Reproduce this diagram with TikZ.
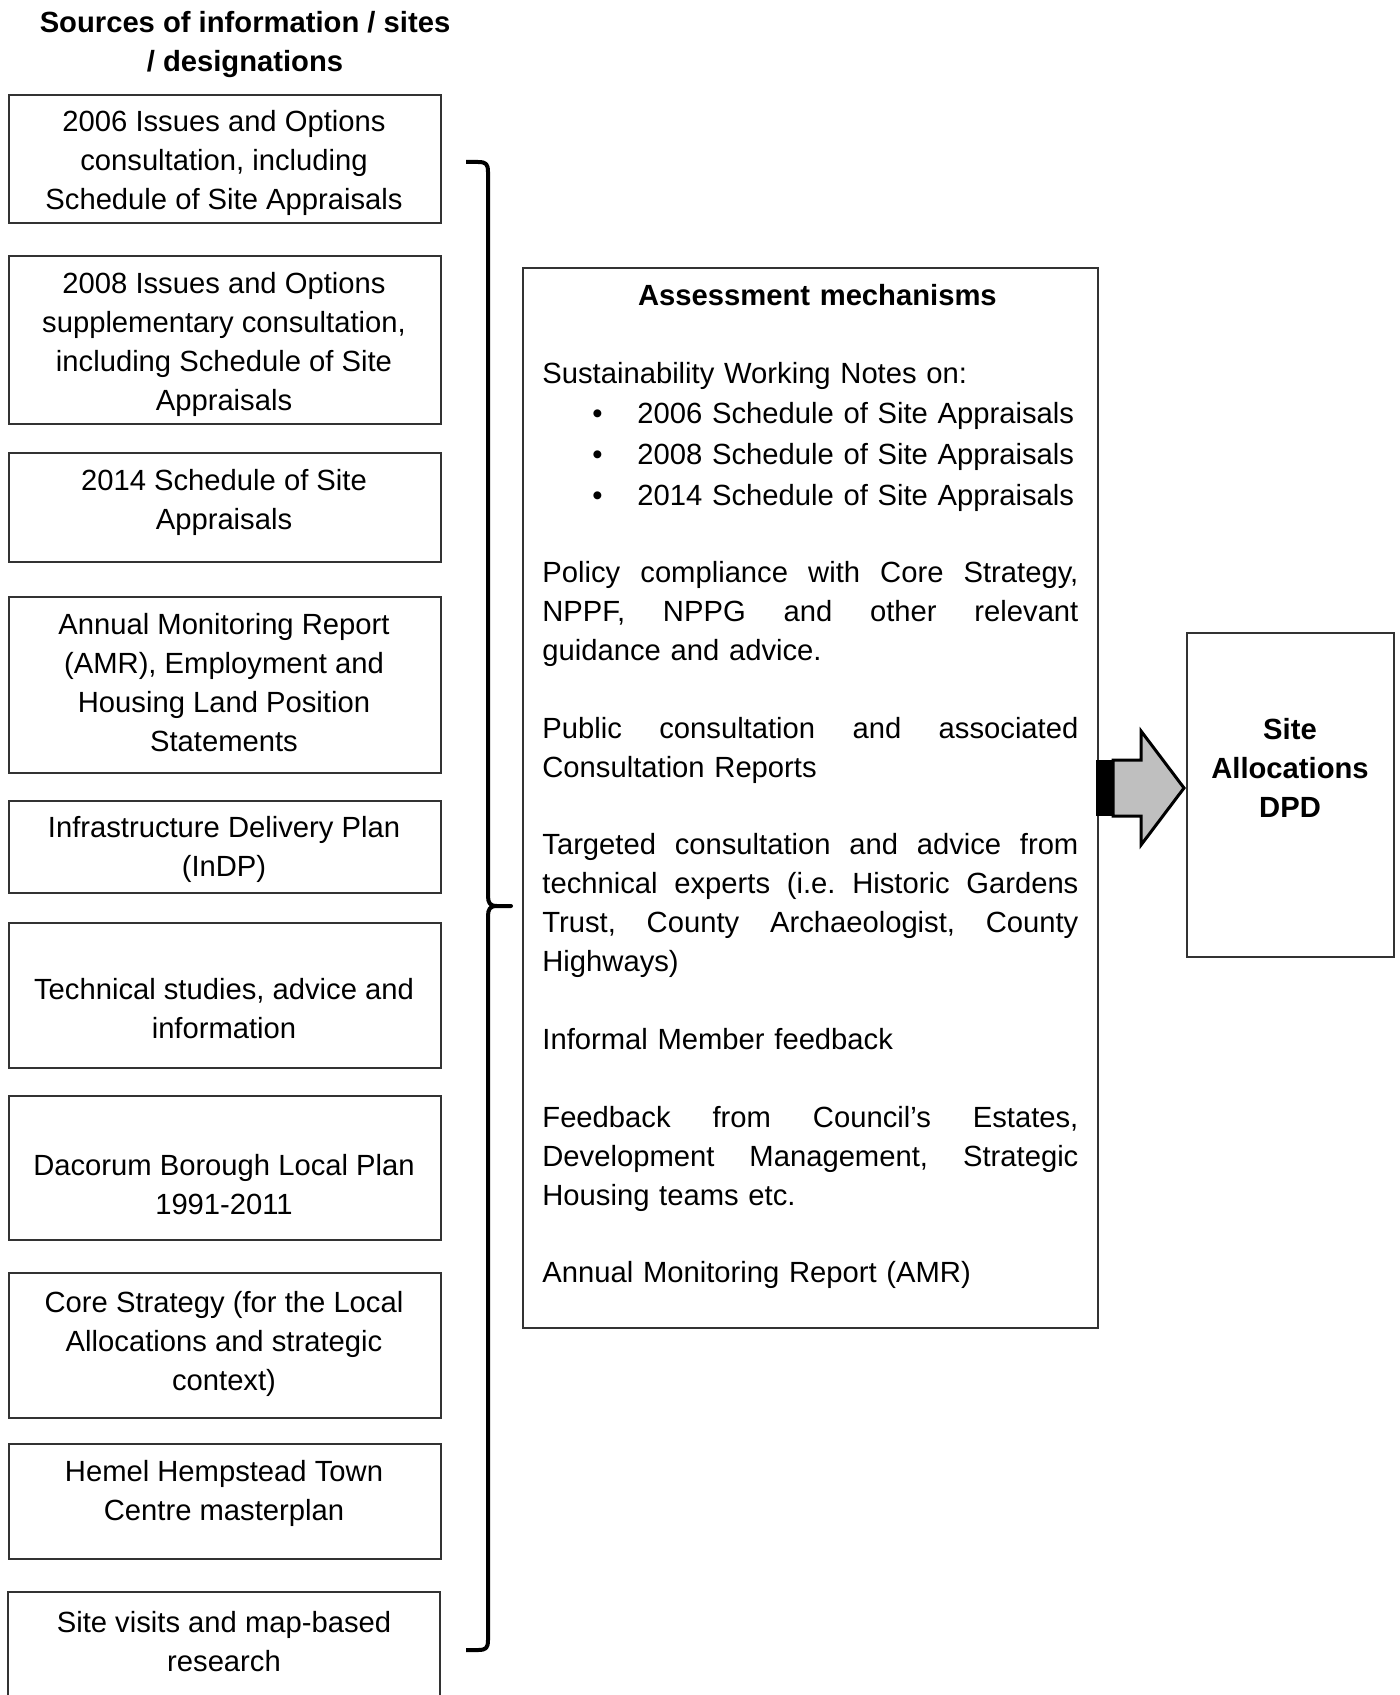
\documentclass[tikz,border=0pt]{standalone}
\usepackage{fontspec}
\setmainfont{Liberation Sans}
\newcommand\dgfont{\fontsize{14.6pt}{19.45pt}\selectfont}
\newcommand\jl[1]{\makebox[268pt][s]{#1}}
\begin{document}
\begin{tikzpicture}[x=0.5pt,y=-0.5pt,
  frame/.style={draw=black!80, line width=0.8pt, inner sep=0, anchor=north west},
  txt/.style={anchor=north, inner sep=0, align=center, font=\dgfont},
]
\useasboundingbox (0,0) rectangle (1400,1695);

% title
\node[txt, font=\dgfont\bfseries] (title) at (245,4.9) {\strut Sources of information / sites\\/ designations};

% source boxes
\node[frame, minimum width=216pt, minimum height=64pt]   (b1) at (8,94) {};
\node[frame, minimum width=216pt, minimum height=84pt]   (b2) at (8,255) {};
\node[frame, minimum width=216pt, minimum height=54.5pt] (b3) at (8,452) {};
\node[frame, minimum width=216pt, minimum height=88pt]   (b4) at (8,596) {};
\node[frame, minimum width=216pt, minimum height=46pt]   (b5) at (8,800) {};
\node[frame, minimum width=216pt, minimum height=72.5pt] (b6) at (8,922) {};
\node[frame, minimum width=216pt, minimum height=72pt]   (b7) at (8,1095) {};
\node[frame, minimum width=216pt, minimum height=72.5pt] (b8) at (8,1272) {};
\node[frame, minimum width=216pt, minimum height=57.5pt] (b9) at (8,1443) {};
\coordinate (b10a) at (8,1760);
\coordinate (b10b) at (8,1592);
\coordinate (b10c) at (440,1592);
\coordinate (b10d) at (440,1760);
\draw[draw=black!80, line width=0.8pt] (b10a) -- (b10b) -- (b10c) -- (b10d);

\node[txt] (t1) at (224,104.3) {\strut 2006 Issues and Options\\consultation, including\\Schedule of Site Appraisals};
\node[txt] (t2) at (224,266.3) {\strut 2008 Issues and Options\\supplementary consultation,\\including Schedule of Site\\Appraisals};
\node[txt] (t3) at (224,463.3) {\strut 2014 Schedule of Site\\Appraisals};
\node[txt] (t4) at (224,607.3) {\strut Annual Monitoring Report\\(AMR), Employment and\\Housing Land Position\\Statements};
\node[txt] (t5) at (224,810.3) {\strut Infrastructure Delivery Plan\\(InDP)};
\node[txt] (t6) at (224,972.3) {\strut Technical studies, advice and\\information};
\node[txt] (t7) at (224,1148.3) {\strut Dacorum Borough Local Plan\\1991-2011};
\node[txt] (t8) at (224,1285.3) {\strut Core Strategy (for the Local\\Allocations and strategic\\context)};
\node[txt] (t9) at (224,1454.3) {\strut Hemel Hempstead Town\\Centre masterplan};
\node[txt] (t10) at (224,1605.3) {\strut Site visits and map-based\\research};

% brace
\draw[line width=2pt, line join=round]
  (466,162) -- (478,162) .. controls (486,162) and (488,164) .. (488,172)
  -- (488,896) .. controls (488,903) and (490,906) .. (497,906) -- (511,906)
  -- (497,906) .. controls (490,906) and (488,909) .. (488,916)
  -- (488,1640) .. controls (488,1648) and (486,1650) .. (478,1650) -- (466,1650);

% assessment box
\node[frame, minimum width=287.5pt, minimum height=530pt] (mid) at (522,267) {};
\node[anchor=north west, inner sep=0, text width=268pt, align=left, font=\dgfont] (midtext) at (542,278.3) {%
\noindent\strut\makebox[268pt][c]{\hspace{7pt}\bfseries Assessment mechanisms}\\
\strut\\
Sustainability Working Notes on:\\[0.5pt]
\hspace*{25pt}\makebox[22.5pt][l]{•}2006 Schedule of Site Appraisals\\[1.1pt]
\hspace*{25pt}\makebox[22.5pt][l]{•}2008 Schedule of Site Appraisals\\[1.1pt]
\hspace*{25pt}\makebox[22.5pt][l]{•}2014 Schedule of Site Appraisals\\[-0.5pt]
\strut\\
\jl{Policy\hfill compliance\hfill with\hfill Core\hfill Strategy,}\\
\jl{NPPF,\hfill NPPG\hfill and\hfill other\hfill relevant}\\
guidance and advice.\\
\strut\\
\jl{Public\hfill consultation\hfill and\hfill associated}\\
Consultation Reports\\
\strut\\
\jl{Targeted\hfill consultation\hfill and\hfill advice\hfill from}\\
\jl{technical\hfill experts\hfill (i.e.\hfill Historic\hfill Gardens}\\
\jl{Trust,\hfill County\hfill Archaeologist,\hfill County}\\
Highways)\\
\strut\\
Informal Member feedback\\
\strut\\
\jl{Feedback\hfill from\hfill Council’s\hfill Estates,}\\
\jl{Development\hfill Management,\hfill Strategic}\\
Housing teams etc.\\
\strut\\
Annual Monitoring Report (AMR)};

% result box
\node[frame, minimum width=103.5pt, minimum height=162pt] (res) at (1186,632) {};
\node[txt, font=\dgfont\bfseries] (restext) at (1290,712.3) {\strut Site\\Allocations\\DPD};

% block arrow
\fill[black] (1096,760) rectangle (1113,816);
\draw[line width=1.5pt, fill=black!25, line join=miter]
  (1113,760) -- (1141,760) -- (1141,731) -- (1184,788) -- (1141,845) -- (1141,816) -- (1113,816) -- cycle;
\end{tikzpicture}
\end{document}
